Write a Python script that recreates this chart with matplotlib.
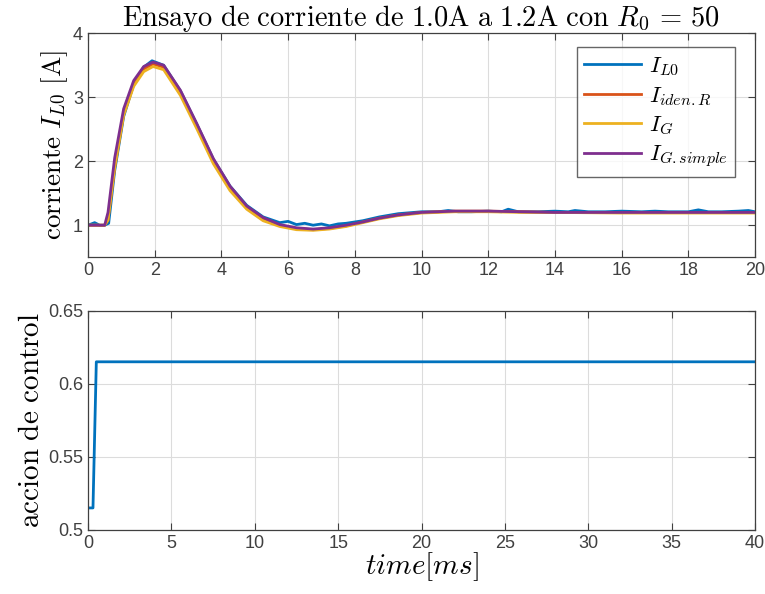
import numpy as np
import matplotlib
matplotlib.use("Agg")
import matplotlib.pyplot as plt

plt.rcParams["mathtext.fontset"] = "cm"
plt.rcParams["font.family"] = ["Liberation Sans", "DejaVu Sans"]

# Corriente (lectura de la figura)
t_meas = [0, 0.2, 0.35, 0.5, 0.62, 0.8, 1.07, 1.37, 1.67, 1.92, 2.27, 2.77, 3.27, 3.76, 4.26,
          4.76, 5.25, 5.75, 6.0, 6.25, 6.5, 6.75, 7.0, 7.24, 7.5, 7.74, 8.24, 8.74, 9.3, 10,
          10.5, 10.8, 11.1, 11.5, 12, 12.4, 12.6, 12.9, 13.5, 14, 14.4, 14.6, 15, 15.5, 16,
          16.6, 17, 17.4, 18, 18.3, 18.6, 19, 19.5, 19.8, 20]
i_L0 = [1.0, 1.04, 1.0, 1.0, 1.03, 1.85, 2.7, 3.2, 3.47, 3.57, 3.5, 3.1, 2.57, 2.03, 1.61,
        1.31, 1.13, 1.04, 1.06, 1.01, 1.03, 1.0, 1.02, 0.99, 1.02, 1.03, 1.07, 1.13, 1.18, 1.21,
        1.21, 1.23, 1.21, 1.21, 1.22, 1.21, 1.25, 1.21, 1.21, 1.22, 1.21, 1.23, 1.21, 1.21,
        1.22, 1.21, 1.22, 1.21, 1.21, 1.24, 1.21, 1.21, 1.22, 1.23, 1.21]

t_mod = [0, 0.5, 0.6, 0.8, 1.07, 1.37, 1.67, 1.95, 2.27, 2.77, 3.27, 3.76, 4.26, 4.76, 5.25,
         5.75, 6.25, 6.75, 7.24, 7.74, 8.24, 8.74, 9.3, 10, 11, 12, 13, 14, 16, 18, 20]
i_idenR = [1.0, 1.0, 1.08, 1.9, 2.74, 3.2, 3.44, 3.52, 3.47, 3.08, 2.55, 2.0, 1.58, 1.28,
           1.1, 1.0, 0.95, 0.93, 0.95, 0.99, 1.05, 1.11, 1.16, 1.2, 1.22, 1.22, 1.21, 1.2,
           1.2, 1.2, 1.2]
i_G = [1.0, 1.0, 1.08, 1.9, 2.72, 3.17, 3.4, 3.48, 3.43, 3.03, 2.5, 1.96, 1.54, 1.25,
       1.07, 0.98, 0.93, 0.92, 0.94, 0.98, 1.04, 1.1, 1.15, 1.19, 1.21, 1.21, 1.2, 1.2,
       1.19, 1.19, 1.19]
i_Gsimple = [1.0, 1.0, 1.2, 2.05, 2.82, 3.26, 3.48, 3.55, 3.5, 3.11, 2.58, 2.04, 1.61, 1.3,
             1.12, 1.01, 0.96, 0.94, 0.96, 1.0, 1.05, 1.11, 1.16, 1.2, 1.22, 1.22, 1.21, 1.2,
             1.2, 1.2, 1.2]

# Accion de control
t_u = [0, 0.3, 0.5, 40]
u = [0.515, 0.515, 0.615, 0.615]

colors = ["#0072BD", "#D95319", "#EDB120", "#7E2F8E"]

fig = plt.figure(figsize=(7.65, 5.94), dpi=100)
ax1 = fig.add_axes([0.115, 0.567, 0.872, 0.377])
ax2 = fig.add_axes([0.115, 0.108, 0.872, 0.369])

ax1.plot(t_meas, i_L0, color=colors[0], lw=2, label=r"$I_{L0}$")
ax1.plot(t_mod, i_idenR, color=colors[1], lw=2, label=r"$I_{iden.R}$")
ax1.plot(t_mod, i_G, color=colors[2], lw=2, label=r"$I_G$")
ax1.plot(t_mod, i_Gsimple, color=colors[3], lw=2, label=r"$I_{G.simple}$")
ax1.set_xlim(0, 20)
ax1.set_ylim(0.5, 4)
ax1.set_xticks(np.arange(0, 21, 2))
ax1.set_yticks([1, 2, 3, 4])
ax1.set_ylabel(r"$\mathrm{corriente}\ I_{L0}\ \mathrm{[A]}$", fontsize=19.5, labelpad=2)
ax1.set_title(r"$\mathrm{Ensayo\ de\ corriente\ de\ 1.0A\ a\ 1.2A\ con\ }R_0\,=\,50$",
              fontsize=20.5, pad=5)
leg = ax1.legend(loc="upper right", fontsize=16.5, frameon=True, fancybox=False,
                 handlelength=2.5, handletextpad=0.35, borderpad=0.3, labelspacing=0.25,
                 borderaxespad=0, bbox_to_anchor=(0.97, 0.9375))
leg.get_frame().set_edgecolor("#404040")
leg.get_frame().set_linewidth(1.0)

ax2.plot(t_u, u, color=colors[0], lw=2)
ax2.set_xlim(0, 40)
ax2.set_ylim(0.5, 0.65)
ax2.set_xticks(np.arange(0, 41, 5))
ax2.set_yticks([0.5, 0.55, 0.6, 0.65])
ax2.set_yticklabels(["0.5", "0.55", "0.6", "0.65"])
ax2.set_ylabel(r"$\mathrm{accion\ de\ control}$", fontsize=21, labelpad=2)
ax2.set_xlabel(r"$time[ms]$", fontsize=21, labelpad=-1)

for ax in (ax1, ax2):
    ax.grid(True, color="#dcdcdc", lw=0.8)
    ax.set_axisbelow(True)
    ax.tick_params(direction="in", top=True, right=True, labelsize=13,
                   colors="#404040", length=5)
    for s in ax.spines.values():
        s.set_color("#404040")
        s.set_linewidth(0.9)

fig.savefig("out.png", dpi=100)
